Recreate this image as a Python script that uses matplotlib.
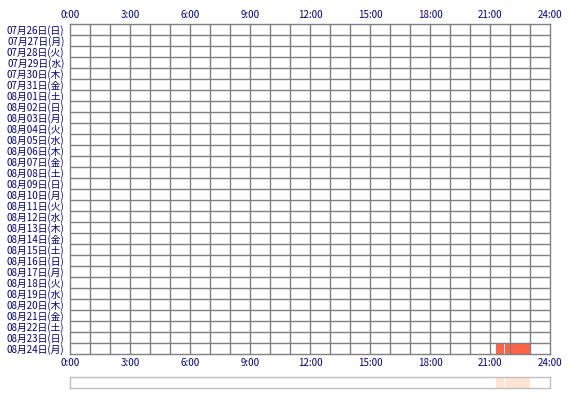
import matplotlib
matplotlib.use("Agg")
import matplotlib.pyplot as plt
import numpy as np

plt.rcParams['font.family'] = ['Noto Sans CJK JP', 'DejaVu Sans']

# day labels (rows, top to bottom)
days = [
    "07月26日(日)", "07月27日(月)", "07月28日(火)", "07月29日(水)", "07月30日(木)",
    "07月31日(金)", "08月01日(土)", "08月02日(日)", "08月03日(月)", "08月04日(火)",
    "08月05日(水)", "08月06日(木)", "08月07日(金)", "08月08日(土)", "08月09日(日)",
    "08月10日(月)", "08月11日(火)", "08月12日(水)", "08月13日(木)", "08月14日(金)",
    "08月15日(土)", "08月16日(日)", "08月17日(月)", "08月18日(火)", "08月19日(水)",
    "08月20日(木)", "08月21日(金)", "08月22日(土)", "08月23日(日)", "08月24日(月)",
]
hour_labels = ["0:00", "3:00", "6:00", "9:00", "12:00", "15:00", "18:00", "21:00", "24:00"]

# activity sessions: row index, start hour, end hour
session_day = [29, 29]
session_start = [21.3, 21.75]
session_end = [21.7, 23.0]

text_color = "#000080"
grid_color = "#808080"
bar_color = "#FF6347"
summary_color = "#FFE4D6"

W, H = 570, 400
fig = plt.figure(figsize=(W / 100, H / 100), dpi=100)

left, right, top, bottom = 70, 550, 24, 354
ax = fig.add_axes([left / W, 1 - bottom / H, (right - left) / W, (bottom - top) / H])
n = len(days)
ax.set_xlim(0, 24)
ax.set_ylim(n, 0)

for d, s, e in zip(session_day, session_start, session_end):
    ax.barh(d + 0.5, e - s, left=s, height=1.0, color=bar_color, zorder=1)

# grid lines every hour and every row
for h in range(1, 24):
    ax.axvline(h, color=grid_color, linewidth=1.0, zorder=2)
for r in range(1, n):
    ax.axhline(r, color=grid_color, linewidth=1.0, zorder=2)

ax.set_xticks(np.arange(0, 25, 3))
ax.set_xticklabels(hour_labels, color=text_color, fontsize=7)
ax.set_yticks(np.arange(n) + 0.5)
ax.set_yticklabels(days, color=text_color, fontsize=7)
ax.tick_params(which='both', length=0)
ax.tick_params(axis='x', labeltop=True, labelbottom=True, pad=3)
ax.tick_params(axis='y', pad=4)
for sp in ax.spines.values():
    sp.set_color(grid_color)
    sp.set_linewidth(1.0)
    sp.set_zorder(3)

# daily summary strip
s_top, s_bottom = 377, 388
ax2 = fig.add_axes([left / W, 1 - s_bottom / H, (right - left) / W, (s_bottom - s_top) / H])
ax2.set_xlim(0, 24)
ax2.set_ylim(0, 1)
for s, e in zip(session_start, session_end):
    ax2.barh(0.5, e - s, left=s, height=1.0, color=summary_color)
ax2.set_xticks([])
ax2.set_yticks([])
for sp in ax2.spines.values():
    sp.set_color("#C0C0C0")
    sp.set_linewidth(1.0)

fig.savefig("out.png", dpi=100)
